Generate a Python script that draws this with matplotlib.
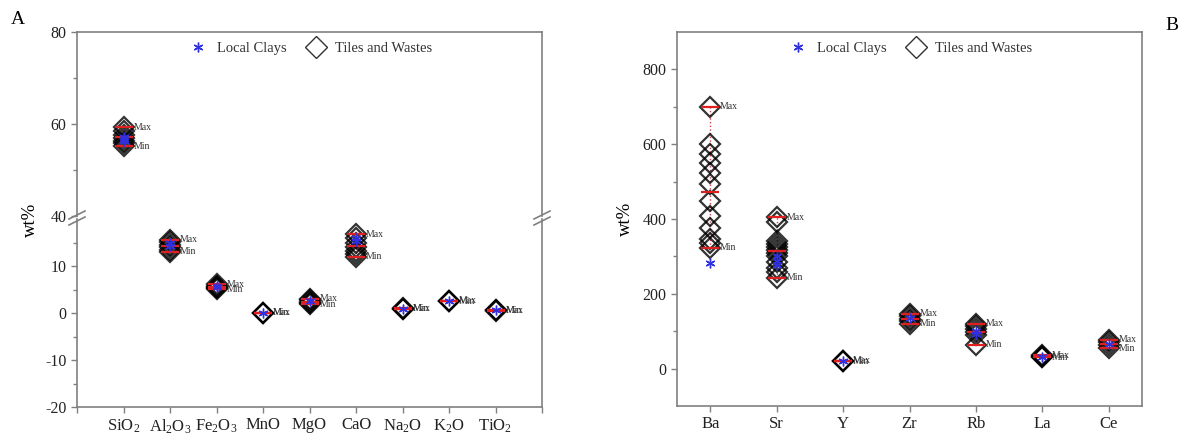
import numpy as np
import matplotlib
matplotlib.use('Agg')
import matplotlib.pyplot as plt
from matplotlib.lines import Line2D

plt.rcParams['font.family'] = 'Liberation Serif'
plt.rcParams['mathtext.fontset'] = 'custom'
plt.rcParams['mathtext.rm'] = 'Liberation Serif'
plt.rcParams['mathtext.it'] = 'Liberation Serif:italic'
plt.rcParams['axes.unicode_minus'] = False

# ---- data ------------------------------------------------------------
oxides = [r'SiO$_2$', r'Al$_2$O$_3$', r'Fe$_2$O$_3$', 'MnO', 'MgO', 'CaO',
          r'Na$_2$O', r'K$_2$O', r'TiO$_2$']
oxide_tiles = [
    [59.3, 58.4, 57.6, 57.0, 56.4, 55.8, 55.2],
    [15.6, 15.1, 14.5, 14.0, 13.5, 13.0],
    [6.1, 5.8, 5.6, 5.4, 5.1],
    [0.1, 0.1, 0.1],
    [3.0, 2.7, 2.4, 2.1, 1.9],
    [16.8, 16.0, 15.0, 14.0, 13.2, 12.5, 12.0],
    [1.0, 0.9, 0.9],
    [2.6, 2.6, 2.5],
    [0.6, 0.6, 0.5],
]
oxide_clays = [[56.7, 57.2, 56.2], [14.9, 14.3], [5.8, 5.5], [0.1], [2.5],
               [16.0, 15.4], [0.9], [2.6], [0.6]]

traces = ['Ba', 'Sr', 'Y', 'Zr', 'Rb', 'La', 'Ce']
trace_tiles = [
    [700, 600, 575, 550, 523, 493, 448, 408, 376, 347, 335, 323],
    [405, 392, 340, 332, 325, 318, 310, 300, 285, 270, 258, 243],
    [21, 21, 20],
    [146, 140, 133, 126, 120],
    [120, 114, 106, 98, 90, 64],
    [36, 34, 32, 30],
    [77, 70, 63, 54],
]
trace_clays = [[283], [288, 300, 276], [21], [135], [100, 92], [32], [65]]

W, H = 1186, 441
ASTER = (6, 2, 0)
GREY = '#808080'


def fx(px):
    return px / W


def fy(py):
    return 1 - py / H


def style_axes(ax):
    for s in ax.spines.values():
        s.set_color(GREY)
        s.set_linewidth(1.2)
    ax.tick_params(which='both', direction='out', color=GREY, width=1.0,
                   labelsize=11.5, labelcolor='#222222')
    ax.tick_params(which='major', length=4)
    ax.tick_params(which='minor', length=3)


def draw_group(axes, x, tiles, clays):
    # axes may be a list (broken axis) - draw on all of them
    tiles = np.array(tiles, dtype=float)
    for ax in axes:
        ax.plot([x, x], [tiles.min(), tiles.max()], ls=':', color='#d04050',
                lw=1.0, zorder=1)
        ax.plot(np.full(len(tiles), x), tiles, ls='none', marker='D', ms=10,
                mfc='none', mec='black', mew=1.6, alpha=0.8, zorder=2)
        for v in (tiles.max(), tiles.min(), tiles.mean()):
            ax.plot(x, v, marker='_', ms=13, mew=1.6, color='#e02020', zorder=3)
        ax.plot(np.full(len(clays), x), clays, ls='none', marker=ASTER, ms=7,
                mew=1.0, color='#3030e0', zorder=4)
        lo, hi = ax.get_ylim()
        if lo <= tiles.max() <= hi:
            ax.annotate('Max', (x, tiles.max()), xytext=(7, 0),
                        textcoords='offset points', va='center', fontsize=7,
                        color='#333333')
        if lo <= tiles.min() <= hi:
            ax.annotate('Min', (x, tiles.min()), xytext=(7, 0),
                        textcoords='offset points', va='center', fontsize=7,
                        color='#333333')


def add_legend(ax):
    handles = [Line2D([], [], ls='none', marker=ASTER, ms=7, mew=1.0,
                      color='#3030e0'),
               Line2D([], [], ls='none', marker='D', ms=11, mfc='none',
                      mec='#333333', mew=1.0)]
    ax.legend(handles, ['Local Clays', 'Tiles and Wastes'], loc='upper center',
              ncol=2, frameon=False, fontsize=10.5, handletextpad=0.5,
              handlelength=1.6, columnspacing=1.2, borderaxespad=0.3,
              labelcolor='#333333')


fig = plt.figure(figsize=(W / 100, H / 100), dpi=100)

# ---- panel A : broken y axis -----------------------------------------
ax_up = fig.add_axes([fx(77), fy(216), fx(542 - 77), fy(32) - fy(216)])
ax_lo = fig.add_axes([fx(77), fy(407), fx(542 - 77), fy(219) - fy(407)])
for ax in (ax_up, ax_lo):
    style_axes(ax)
    ax.set_xlim(0, 10)
ax_up.set_ylim(40, 80)
ax_lo.set_ylim(-20, 20)
ax_up.spines['bottom'].set_visible(False)
ax_lo.spines['top'].set_visible(False)
ax_up.set_xticks([])
ax_up.set_yticks([40, 60, 80])
ax_up.set_yticks([50, 70], minor=True)
ax_lo.set_yticks([-20, -10, 0, 10])
ax_lo.set_yticks([-15, -5, 5, 15], minor=True)
xpos = np.arange(1, len(oxides) + 1)
ax_lo.set_xticks(np.arange(0, len(oxides) + 2))
ax_lo.set_xticklabels([''] + oxides + [''], fontsize=12)

for i in range(len(oxides)):
    draw_group([ax_up, ax_lo], xpos[i], oxide_tiles[i], oxide_clays[i])
add_legend(ax_up)

# break marks
for xp in (77, 542):
    for dy in (-3, 3):
        fig.add_artist(Line2D([fx(xp - 8), fx(xp + 8)],
                              [fy(218 + dy + 4), fy(218 + dy - 4)],
                              color=GREY, lw=1.2))

fig.text(fx(30), fy(220), 'wt%', rotation=90, fontsize=13.5, ha='center',
         va='center')
fig.text(fx(18), fy(20), 'A', fontsize=14, ha='center', va='center')

# ---- panel B ------------------------------------------------------------
axb = fig.add_axes([fx(677), fy(406), fx(1142 - 677), fy(32) - fy(406)])
style_axes(axb)
axb.set_xlim(0.5, len(traces) + 0.5)
axb.set_ylim(-100, 900)
axb.set_yticks(np.arange(0, 900, 200))
axb.set_yticks(np.arange(100, 900, 200), minor=True)
tpos = np.arange(1, len(traces) + 1)
axb.set_xticks(tpos)
axb.set_xticklabels(traces, fontsize=12)
for i in range(len(traces)):
    draw_group([axb], tpos[i], trace_tiles[i], trace_clays[i])
add_legend(axb)
axb.set_ylabel('wt%', fontsize=13.5, labelpad=6)
fig.text(fx(1172), fy(25), 'B', fontsize=14, ha='center', va='center')

fig.savefig('out.png', dpi=100)
